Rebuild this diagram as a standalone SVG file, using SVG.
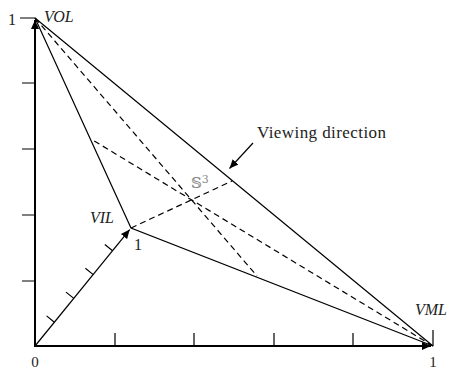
<svg xmlns="http://www.w3.org/2000/svg" width="451" height="369" viewBox="0 0 451 369">
<style>
.ax{stroke:#000;stroke-width:2;fill:none}
.tk{stroke:#000;stroke-width:1.2;fill:none}
.ln{stroke:#000;stroke-width:1.2;fill:none}
.ds{stroke:#000;stroke-width:1.2;fill:none;stroke-dasharray:6 4}
.t{font-family:"Liberation Serif","Times New Roman",serif;font-size:16px;fill:#222}
.it{font-style:italic}
</style>
<defs>
<marker id="ah" markerWidth="10" markerHeight="10" refX="9" refY="5" orient="auto" markerUnits="userSpaceOnUse">
<path d="M0,1 L9,5 L0,9 Z" fill="#000"/>
</marker>
</defs>
<rect width="451" height="369" fill="#fff"/>
<g id="axes">
<line class="ax" x1="35" y1="346" x2="35" y2="20" marker-end="url(#ah)"/>
<line class="ax" x1="34" y1="346" x2="431" y2="346" marker-end="url(#ah)"/>
<path class="tk" d="M20,18H35 M22,83H35 M22,149H35 M22,215H35 M22,281H35"/>
<path class="tk" d="M115,333V346 M194,333V346 M274,333V346 M353,333V346 M433,330V346"/>
</g>
<g id="vil-axis">
<line class="tk" x1="35" y1="346" x2="129.7" y2="229.6" marker-end="url(#ah)"/>
<path class="tk" d="M54.4,322.2l-7.8,-6.3 M73.8,298.4l-7.8,-6.3 M93.2,274.6l-7.8,-6.3 M112.6,250.8l-7.8,-6.3"/>
</g>
<g id="connectors">
<path class="ln" d="M35,18L131,228L433,346Z"/>
<line class="ds" x1="35" y1="18" x2="257" y2="276"/>
<line class="ds" x1="433" y1="346" x2="91" y2="139"/>
<line class="ds" x1="131" y1="228" x2="232" y2="181"/>
<line class="tk" x1="253" y1="143" x2="229.5" y2="168.5" marker-end="url(#ah)"/>
</g>
<g id="labels">
<text class="t" x="8" y="25">1</text>
<text class="t it" x="44" y="22">VOL</text>
<text class="t it" x="90" y="223">VIL</text>
<text class="t" x="134" y="250">1</text>
<text class="t it" x="415" y="315">VML</text>
<text class="t" x="35" y="367" text-anchor="middle" style="font-size:15px">0</text>
<text class="t" x="433" y="367" text-anchor="middle" style="font-size:15px">1</text>
<text class="t" x="257" y="138" textLength="129" style="font-size:17px">Viewing direction</text>
<text class="t" x="191" y="188" style="fill:#888;font-family:'DejaVu Serif','DejaVu Sans',serif;font-size:15px">𝕊<tspan dy="-5" style="font-size:11px">3</tspan></text>
</g>
</svg>
